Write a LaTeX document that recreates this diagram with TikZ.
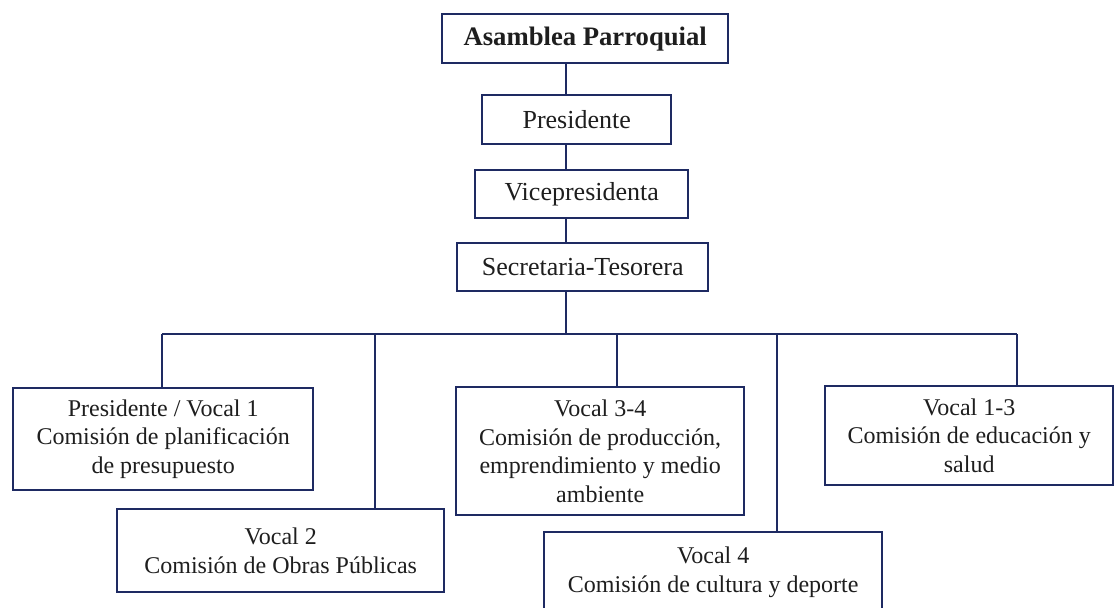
\documentclass[tikz,border=0pt]{standalone}
\usepackage{fontspec}
\setmainfont{Liberation Serif}
\definecolor{navy}{RGB}{30,42,98}
\definecolor{txt}{RGB}{30,30,30}
\begin{document}
\begin{tikzpicture}[x=0.75pt,y=-0.75pt,
  box/.style={draw=navy,line width=1.8pt,fill=white,text=txt,inner sep=0pt,align=center,anchor=north west},
  top/.style={box,font=\fontsize{19.5}{23}\selectfont},
  low/.style={box,font=\fontsize{18}{21.5}\selectfont},
  link/.style={draw=navy,line width=1.8pt}]
\useasboundingbox (0,0) rectangle (1114,607);
\clip (0,0) rectangle (1114,607);
% top chain
\node[top,font=\bfseries\fontsize{20}{24}\selectfont,minimum width=286*0.75pt,minimum height=49*0.75pt] (A) at (441,13) {Asamblea Parroquial};
\node[top,minimum width=189*0.75pt,minimum height=49*0.75pt] (P) at (481,94) {Presidente};
\node[top,minimum width=213*0.75pt,minimum height=48*0.75pt] (V) at (474,169) {Vicepresidenta};
\node[top,minimum width=251*0.75pt,minimum height=48*0.75pt] (S) at (456,242) {Secretaria-Tesorera};
% lower boxes
\node[low,minimum width=300*0.75pt,minimum height=102*0.75pt] (B1) at (12,387) {Presidente / Vocal 1\\Comisión de planificación\\de presupuesto};
\node[low,minimum width=327*0.75pt,minimum height=83*0.75pt] (B2) at (116,508) {Vocal 2\\Comisión de Obras Públicas};
\node[low,minimum width=288*0.75pt,minimum height=128*0.75pt] (B3) at (455,386) {Vocal 3-4\\Comisión de producción,\\emprendimiento y medio\\ambiente};
\node[low,minimum width=288*0.75pt,minimum height=99*0.75pt] (B4) at (824,385) {Vocal 1-3\\Comisión de educación y\\salud};
\node[low,minimum width=338*0.75pt,minimum height=80*0.75pt] (B5) at (543,531) {Vocal 4\\Comisión de cultura y deporte};
% coordinates
\coordinate (c) at (566,334);
\coordinate (x1) at (162,334);
\coordinate (x2) at (375,334);
\coordinate (x3) at (617,334);
\coordinate (x4) at (777,334);
\coordinate (x5) at (1017,334);
% connectors
\draw[link] (A.south -| c) -- (P.north -| c);
\draw[link] (P.south -| c) -- (V.north -| c);
\draw[link] (V.south -| c) -- (S.north -| c);
\draw[link] (S.south -| c) -- (c);
\draw[link] (x1) -- (x5);
\draw[link] (x1) -- (B1.north -| x1);
\draw[link] (x2) -- (B2.north -| x2);
\draw[link] (x3) -- (B3.north -| x3);
\draw[link] (x4) -- (B5.north -| x4);
\draw[link] (x5) -- (B4.north -| x5);
\end{tikzpicture}
\end{document}
